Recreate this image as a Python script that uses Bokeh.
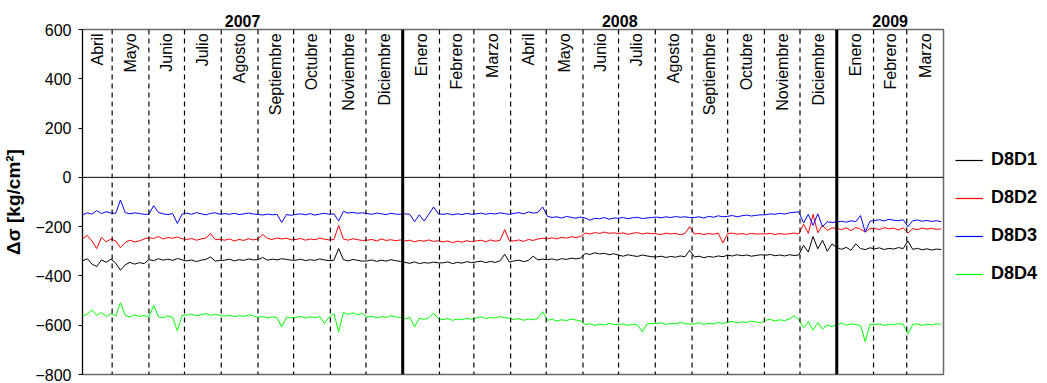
import pandas as pd
from math import pi
from bokeh.plotting import figure
from bokeh.layouts import row
from bokeh.models import (Range1d, Span, LinearAxis, FixedTicker, Legend,
                          LegendItem, ColumnDataSource)
from bokeh.core.properties import value
from bokeh.embed import file_html
from bokeh.resources import INLINE

FONT = "Liberation Sans"

# ---------------- data (one value every 4 days) ----------
start_date = "2007-04-06"
n_points = 182
series_names = ["D8D1", "D8D2", "D8D3", "D8D4"]
series_colors = ["#000000", "#ff0000", "#0000ff", "#00ff00"]

d8d1 = [
    -339, -330, -352, -362, -335, -345, -332,
    -348, -377, -355, -345, -352, -346, -350,
    -334, -338, -330, -336, -332, -337, -329, -335,
    -339, -335, -342, -336, -333, -323, -340, -337,
    -336, -332, -339, -334, -337, -331, -335,
    -334, -325, -336, -332, -335, -330, -333, -336,
    -336, -332, -338, -334, -337, -331, -335, -338,
    -336, -289, -334, -339, -333, -337, -340,
    -339, -335, -341, -336, -340, -334, -338, -341,
    -345, -349, -343, -350, -346, -348, -344, -347,
    -347, -343, -350, -345, -348, -342, -346,
    -343, -340, -346, -341, -345, -339, -312, -344,
    -339, -336, -342, -337, -320, -335, -332,
    -334, -331, -336, -330, -333, -328, -331, -327,
    -309, -313, -306, -311, -308, -314, -310,
    -316, -320, -314, -318, -321, -315, -319, -322,
    -323, -320, -325, -321, -324, -319, -322, -296,
    -323, -320, -326, -321, -324, -319, -322,
    -316, -319, -314, -318, -315, -320, -317, -314,
    -316, -313, -318, -315, -319, -314, -317, -315,
    -276, -303, -240, -290, -255, -300, -270,
    -285, -292, -284, -296, -270, -289, -293, -286,
    -290, -286, -293, -288, -291, -285, -289,
    -258, -292, -288, -294, -290, -295, -291, -293,
]
d8d2 = [
    -249, -236, -258, -289, -243, -262, -250,
    -258, -285, -265, -255, -262, -258, -250,
    -245, -248, -240, -250, -244, -247, -242, -249,
    -252, -248, -255, -250, -246, -228, -253, -251,
    -255, -250, -258, -252, -256, -249, -254,
    -250, -232, -248, -252, -246, -250, -247, -253,
    -252, -248, -255, -250, -253, -247, -251, -254,
    -252, -195, -250, -255, -249, -253, -256,
    -255, -252, -258, -250, -256, -253, -257, -254,
    -258, -255, -262, -256, -259, -254, -260, -257,
    -262, -258, -265, -259, -263, -257, -261,
    -258, -255, -261, -254, -259, -256, -212, -258,
    -258, -254, -260, -252, -256, -250, -247,
    -249, -245, -250, -243, -247, -241, -244, -240,
    -226, -230, -224, -228, -222, -227, -225,
    -229, -225, -231, -227, -224, -230, -226, -228,
    -229, -232, -226, -230, -227, -233, -228, -200,
    -230, -227, -232, -228, -231, -226, -266,
    -229, -226, -231, -228, -232, -227, -230, -229,
    -230, -227, -232, -228, -231, -229, -226, -230,
    -190, -227, -150, -225, -195, -215, -205,
    -207, -212, -205, -216, -203, -210, -222, -208,
    -207, -212, -204, -209, -206, -213, -205,
    -226, -208, -212, -206, -210, -207, -211, -209,
]
d8d3 = [
    -152, -144, -149, -135, -147, -139, -145,
    -146, -92, -143, -148, -144, -147, -150,
    -150, -115, -142, -148, -151, -147, -187, -149,
    -145, -150, -143, -148, -152, -146, -144, -150,
    -147, -150, -146, -151, -148, -145, -149,
    -150, -153, -149, -152, -150, -183, -151, -154,
    -150, -148, -152, -147, -153, -149, -146, -150,
    -148, -177, -138, -145, -142, -146, -144,
    -147, -150, -145, -148, -151, -146, -149, -150,
    -148, -150, -180, -152, -177, -150, -120, -148,
    -150, -147, -152, -148, -151, -146, -150,
    -148, -145, -150, -146, -149, -144, -147, -150,
    -146, -143, -148, -140, -145, -142, -120,
    -158, -163, -160, -165, -159, -162, -166, -161,
    -165, -174, -166, -168, -163, -170, -165,
    -166, -163, -168, -164, -162, -167, -165, -163,
    -161, -164, -160, -163, -159, -162, -160, -163,
    -163, -160, -165, -158, -162, -156, -160,
    -158, -155, -160, -156, -153, -157, -154, -152,
    -152, -148, -150, -146, -149, -144, -142, -140,
    -185, -150, -195, -148, -200, -180, -183,
    -181, -178, -182, -176, -180, -155, -222, -178,
    -175, -172, -177, -170, -174, -176, -172,
    -200, -176, -173, -178, -175, -179, -176, -180,
]
d8d4 = [
    -562, -555, -539, -560, -548, -565, -552,
    -563, -509, -560, -566, -558, -564, -561,
    -567, -519, -565, -570, -562, -568, -623, -560,
    -559, -555, -562, -557, -553, -560, -556, -561,
    -563, -559, -566, -561, -564, -558, -562,
    -568, -565, -571, -566, -569, -607, -567, -570,
    -568, -564, -571, -566, -569, -565, -593, -567,
    -553, -627, -548, -556, -550, -557, -552,
    -567, -563, -570, -565, -568, -562, -566, -569,
    -574, -568, -606, -572, -576, -570, -551, -573,
    -577, -573, -580, -575, -578, -572, -576,
    -570, -566, -573, -568, -571, -565, -569, -572,
    -577, -573, -580, -575, -578, -572, -545,
    -580, -576, -583, -578, -581, -575, -579, -582,
    -598, -594, -601, -596, -599, -593, -597,
    -598, -594, -601, -596, -599, -627, -595, -593,
    -594, -590, -597, -592, -595, -589, -593, -596,
    -594, -590, -597, -592, -595, -589, -593,
    -588, -584, -591, -586, -589, -583, -587, -590,
    -580, -576, -583, -578, -581, -575, -562, -578,
    -610, -585, -620, -590, -615, -600, -605,
    -598, -592, -600, -595, -597, -602, -666, -596,
    -598, -594, -601, -596, -599, -593, -597,
    -635, -598, -594, -601, -596, -599, -594, -597,
]

month_labels = ["Abril", "Mayo", "Junio", "Julio", "Agosto", "Septiembre",
                "Octubre", "Noviembre", "Diciembre",
                "Enero", "Febrero", "Marzo", "Abril", "Mayo", "Junio", "Julio",
                "Agosto", "Septiembre", "Octubre", "Noviembre", "Diciembre",
                "Enero", "Febrero", "Marzo"]
year_labels = ["2007", "2008", "2009"]
y_ticks = [-800, -600, -400, -200, 0, 200, 400, 600]

# ---------------- helpers -----------------------------------------------------------
def ms(ts):
    return float(pd.Timestamp(ts).value // 10**6)

x_start = ms("2007-04-06")
x_end = ms("2009-04-01")
dates = pd.date_range(start_date, periods=n_points, freq="4D")

month_starts = list(pd.date_range("2007-05-01", "2009-03-01", freq="MS"))
bounds = [x_start] + [ms(m) for m in month_starts] + [x_end]
month_mid = [(bounds[i] + bounds[i + 1]) / 2 for i in range(len(bounds) - 1)]

year_bounds = [x_start, ms("2008-01-01"), ms("2009-01-01"), x_end]
year_mid = [(year_bounds[i] + year_bounds[i + 1]) / 2 for i in range(3)]

# ---------------- main figure --------------------------------------------------------
p = figure(width=945, height=383, output_backend="svg", toolbar_location=None,
           x_range=Range1d(x_start, x_end), y_range=Range1d(-800, 600),
           x_axis_location=None,
           min_border_left=80, min_border_right=2, min_border_top=29,
           min_border_bottom=9)
p.grid.visible = False
p.background_fill_color = "white"
p.border_fill_color = "white"
p.outline_line_color = "#6a6a6a"
p.outline_line_width = 1.5

ya = p.yaxis[0]
ya.ticker = FixedTicker(ticks=y_ticks)
ya.major_tick_out = 4
ya.major_tick_in = 0
ya.minor_tick_line_color = None
ya.axis_line_color = "black"
ya.major_tick_line_color = "black"
ya.major_label_standoff = 7
ya.major_label_text_font = FONT
ya.major_label_text_font_size = "16px"
ya.major_label_text_color = "black"
ya.axis_label = "Δσ [kg/cm²]"
ya.axis_label_text_font = FONT
ya.axis_label_text_font_size = "19px"
ya.axis_label_text_font_style = "bold"
ya.axis_label_text_color = "black"
ya.axis_label_standoff = 8

top = LinearAxis(ticker=FixedTicker(ticks=year_mid),
                 major_label_overrides={t: l for t, l in zip(year_mid, year_labels)},
                 axis_line_color=None, major_tick_line_color=None,
                 minor_tick_line_color=None, major_tick_in=0, major_tick_out=0,
                 major_label_standoff=3,
                 major_label_text_font=FONT, major_label_text_font_size="16px",
                 major_label_text_font_style="bold", major_label_text_color="black")
p.add_layout(top, "above")

# zero line
p.add_layout(Span(location=0, dimension="width", line_color="black", line_width=1))

# month separators
for m in month_starts:
    if m.month == 1:
        p.add_layout(Span(location=ms(m), dimension="height", line_color="black",
                          line_width=3))
    else:
        p.add_layout(Span(location=ms(m), dimension="height", line_color="black",
                          line_width=1.2, line_dash="5 4"))

# month labels
lab_src = ColumnDataSource(dict(x=month_mid, y=[584] * len(month_mid), t=month_labels))
p.text(x="x", y="y", text="t", source=lab_src, angle=pi / 2, text_align="right",
       text_baseline="middle", text_font=value(FONT), text_font_size="16px",
       text_color="black")

# series
src = ColumnDataSource(dict(x=dates, D8D1=d8d1, D8D2=d8d2, D8D3=d8d3, D8D4=d8d4))
for name, col in zip(series_names, series_colors):
    p.line(x="x", y=name, source=src, line_color=col, line_width=1)

# ---------------- legend panel (separate narrow figure to the right) -------------
q = figure(width=102, height=383, output_backend="svg", toolbar_location=None,
           x_range=Range1d(0, 1), y_range=Range1d(0, 1),
           x_axis_location=None, y_axis_location=None, min_border=0)
q.grid.visible = False
q.outline_line_color = None
q.background_fill_color = "white"
q.border_fill_color = "white"
items = []
for name, col in zip(series_names, series_colors):
    r = q.line(x=[-2, -1], y=[-2, -1], line_color=col, line_width=1.2)
    items.append(LegendItem(label=name, renderers=[r]))
legend = Legend(items=items, location=(10, 90), orientation="vertical",
                border_line_color=None, background_fill_alpha=0,
                padding=0, margin=0, spacing=17, glyph_width=28, glyph_height=20,
                label_height=20, label_standoff=8,
                label_text_font=FONT, label_text_font_size="18px",
                label_text_font_style="bold", label_text_color="black")
q.add_layout(legend)

layout = row(p, q, spacing=0)
open("out.html", "w").write(file_html(layout, INLINE))
